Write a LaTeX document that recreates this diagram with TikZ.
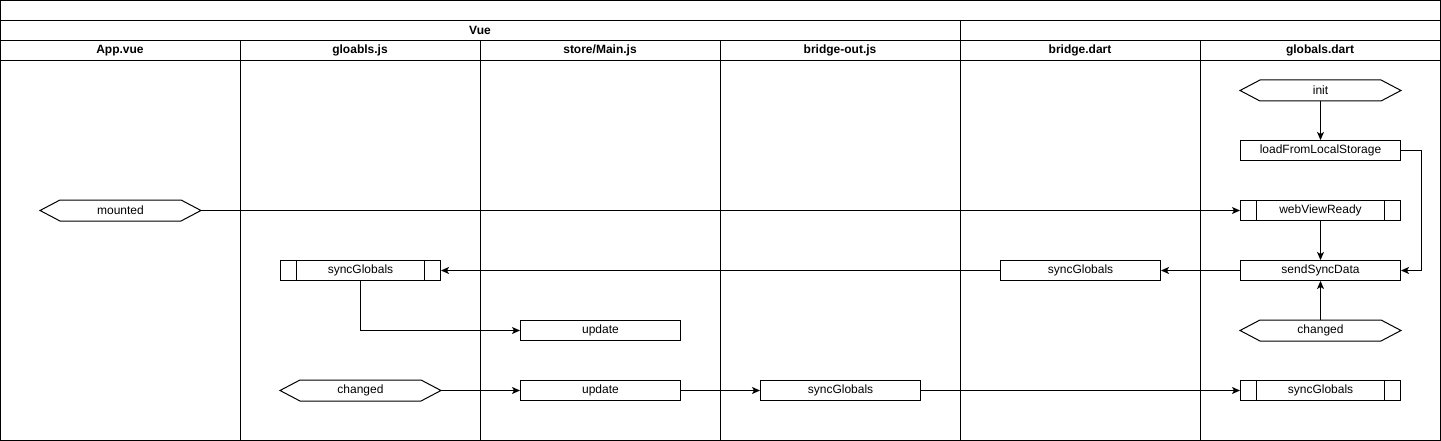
\documentclass[tikz,border=0pt]{standalone}
\usepackage{fontspec}
\setmainfont{Liberation Sans}
\usetikzlibrary{arrows.meta}
\tikzset{
  box/.style={draw, rectangle, minimum width=160pt, minimum height=20pt, inner sep=0pt, font=\fontsize{12}{14}\selectfont, line width=1pt},
  procbox/.style={box, path picture={
      \draw[line width=1pt] ([xshift=16pt]path picture bounding box.north west) -- ([xshift=16pt]path picture bounding box.south west);
      \draw[line width=1pt] ([xshift=-16pt]path picture bounding box.north east) -- ([xshift=-16pt]path picture bounding box.south east);}},
  hexbox/.style={box, draw=none},
  hdr/.style={font=\bfseries\fontsize{12}{14}\selectfont, inner sep=0pt},
  conn/.style={line width=1pt, -{Stealth[length=8pt,width=7pt,inset=2pt]}},
  lane/.style={line width=1pt}
}
\newcommand{\hexdraw}[1]{\draw[line width=1pt] (#1.west) -- ([xshift=20pt]#1.north west) -- ([xshift=-20pt]#1.north east) -- (#1.east) -- ([xshift=-20pt]#1.south east) -- ([xshift=20pt]#1.south west) -- cycle;}
\begin{document}
\begin{tikzpicture}[x=1pt,y=-1pt]
\useasboundingbox (0,0) rectangle (1441,441);
\fill[white] (0,0) rectangle (1441,441);
% frame
\draw[lane] (0.5,0.5) rectangle (1440.5,440.5);
\draw[lane] (0.5,20.5) -- (1440.5,20.5);
\draw[lane] (0.5,40.5) -- (1440.5,40.5);
\draw[lane] (0.5,60.5) -- (1440.5,60.5);
\draw[lane] (960.5,20.5) -- (960.5,440.5);
\foreach \x in {240,480,720,1200} \draw[lane] (\x.5,40.5) -- (\x.5,440.5);
\node[hdr] (vue) at (480,30.5) {Vue};
\node[hdr] (h1) at (120,50.5) {App.vue};
\node[hdr] (h2) at (360,50.5) {gloabls.js};
\node[hdr] (h3) at (600,50.5) {store/Main.js};
\node[hdr] (h4) at (840,50.5) {bridge-out.js};
\node[hdr] (h5) at (1080,50.5) {bridge.dart};
\node[hdr] (h6) at (1320,50.5) {globals.dart};
% nodes
\node[hexbox] (init) at (1320.5,90.5) {init};
\node[box] (load) at (1320.5,150.5) {loadFromLocalStorage};
\node[hexbox] (mounted) at (120.5,210.5) {mounted};
\node[procbox] (wvr) at (1320.5,210.5) {webViewReady};
\node[procbox] (sgjs) at (360.5,270.5) {syncGlobals};
\node[box] (sgbd) at (1080.5,270.5) {syncGlobals};
\node[box] (ssd) at (1320.5,270.5) {sendSyncData};
\node[box] (upd1) at (600.5,330.5) {update};
\node[hexbox] (chd) at (1320.5,330.5) {changed};
\node[hexbox] (chjs) at (360.5,390.5) {changed};
\node[box] (upd2) at (600.5,390.5) {update};
\node[box] (sgbo) at (840.5,390.5) {syncGlobals};
\node[procbox] (sggd) at (1320.5,390.5) {syncGlobals};
\hexdraw{init}
\hexdraw{mounted}
\hexdraw{chd}
\hexdraw{chjs}
% connectors
\draw[conn] (init) -- (load);
\draw[conn] (load.east) -- ++(20,0) |- (ssd.east);
\draw[conn] (mounted) -- (wvr);
\draw[conn] (wvr) -- (ssd);
\draw[conn] (chd) -- (ssd);
\draw[conn] (ssd) -- (sgbd);
\draw[conn] (sgbd) -- (sgjs);
\draw[conn] (sgjs.south) |- (upd1.west);
\draw[conn] (chjs) -- (upd2);
\draw[conn] (upd2) -- (sgbo);
\draw[conn] (sgbo) -- (sggd);
\end{tikzpicture}
\end{document}
